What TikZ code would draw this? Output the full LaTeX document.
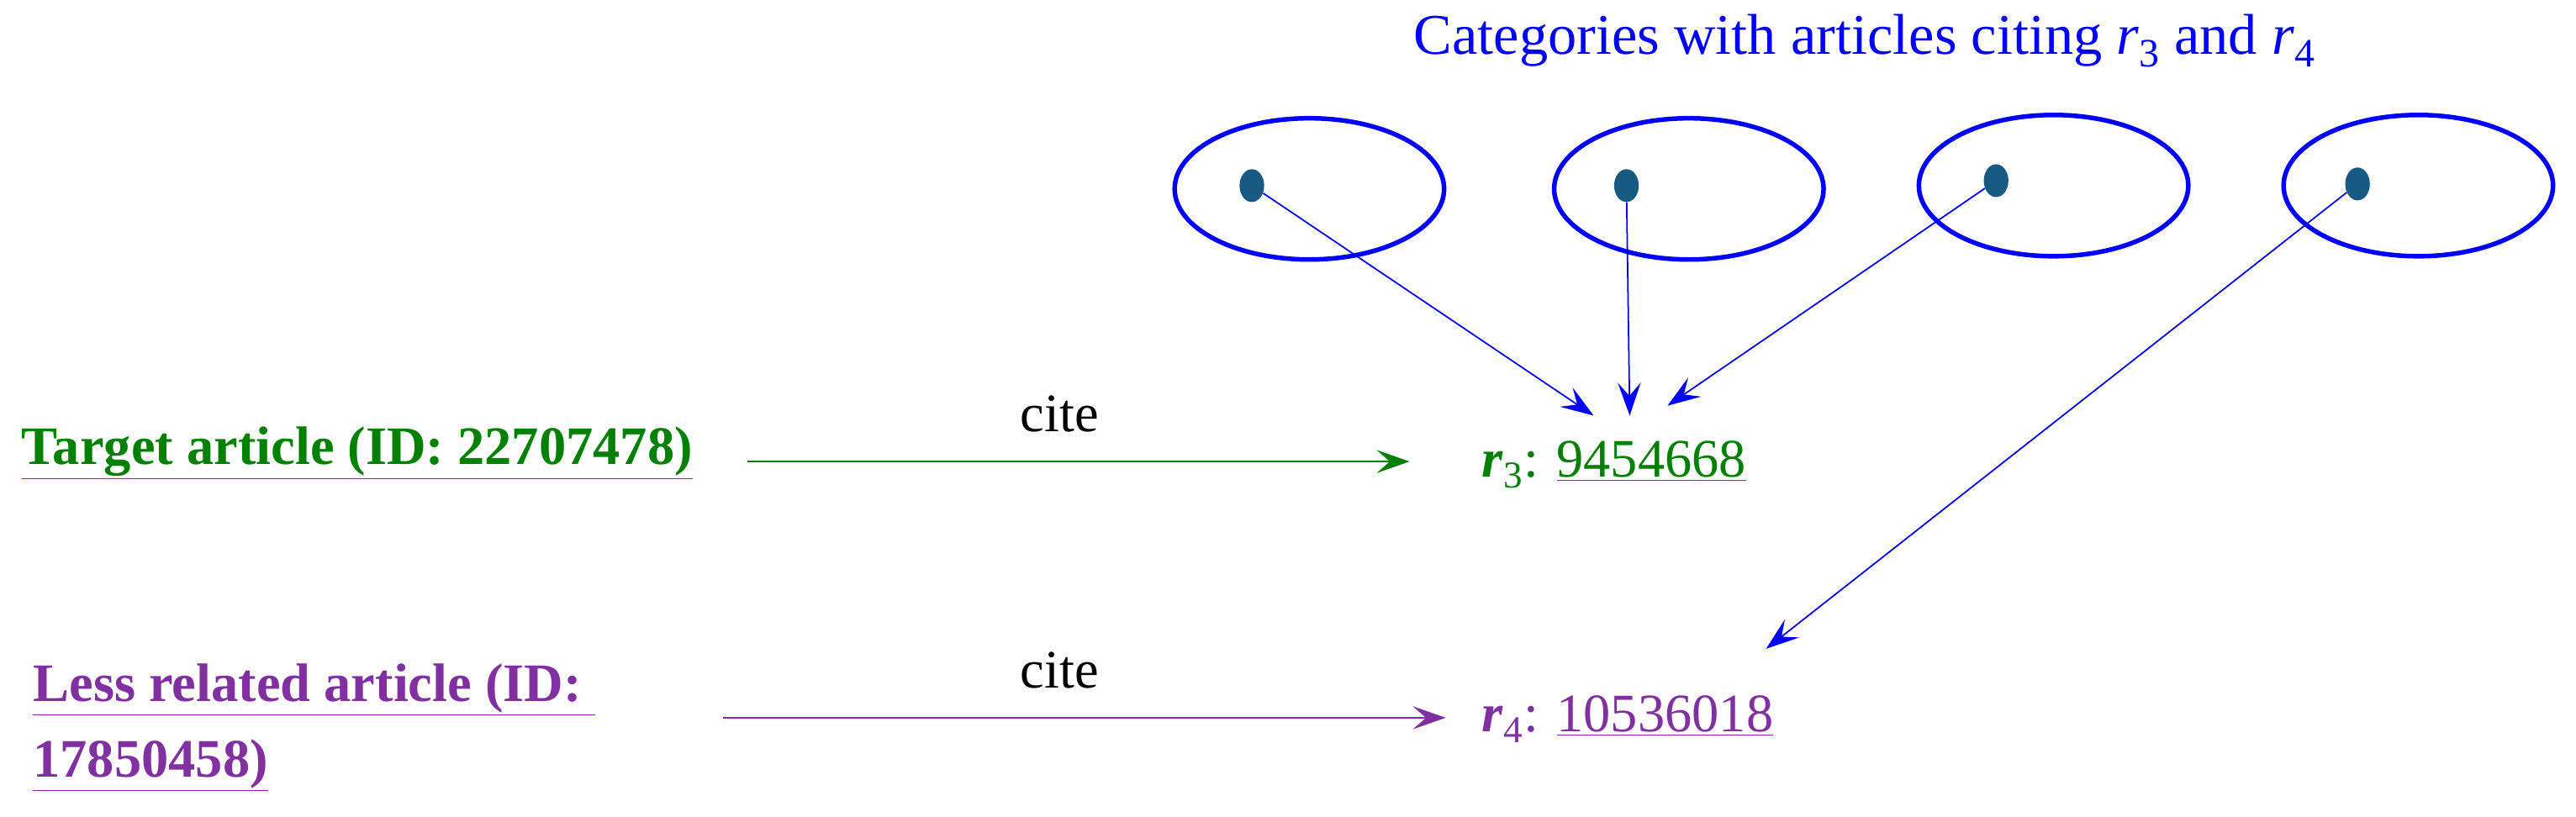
\documentclass[tikz,border=0pt]{standalone}
\usepackage{fontspec}
\setmainfont{Liberation Serif}
\usetikzlibrary{arrows.meta,shapes.geometric}
\definecolor{tgreen}{RGB}{0,128,0}
\definecolor{tpurple}{RGB}{128,48,160}
\definecolor{dotc}{RGB}{25,90,130}
\begin{document}
\begin{tikzpicture}[x=1pt,y=-1pt,
  cat/.style={draw=blue,line width=2.8pt,ellipse,minimum width=164pt,minimum height=86pt},
  dotn/.style={fill=dotc,ellipse,minimum width=15pt,minimum height=20pt,inner sep=0pt},
  tip/.style={-{Stealth[length=20pt,width=14pt,inset=8pt]}},
  bluearr/.style={tip,draw=blue,line width=0.9pt},
  lbl/.style={font=\fontsize{33}{38}\selectfont,inner sep=0pt}]
\useasboundingbox (0,0) rectangle (1568,497);
\node[lbl,text=blue,font=\fontsize{35}{40}\selectfont] (title) at (1135,25) {Categories with articles citing \textit{r}\textsubscript{3} and \textit{r}\textsubscript{4}};
\foreach \i/\x/\y/\dx/\dy in {1/797/115/762/113,2/1028/115/990/113,3/1250/113/1215/110,4/1472/113/1435/112}{
  \node[cat] (e\i) at (\x,\y) {};
  \node[dotn] (d\i) at (\dx,\dy) {};
}
\node[lbl,anchor=west,text=tgreen] (r3) at (902,283) {\textbf{\textit{r}}\textsubscript{3}: \underline{9454668}};
\node[lbl,anchor=west,text=tpurple] (r4) at (902,438) {\textbf{\textit{r}}\textsubscript{4}: \underline{10536018}};
\node[lbl,anchor=west,text=tgreen] (tgt) at (13,276) {\textbf{\underline{Target article (ID: 22707478)}}};
\node[lbl,anchor=west,text=tpurple] (less1) at (20,420) {\textbf{\underline{Less related article (ID:\ }}};
\node[lbl,anchor=west,text=tpurple] (less2) at (20,466) {\textbf{\underline{17850458)}}};
\node[lbl] (cite1) at (645,252) {cite};
\node[lbl] (cite2) at (645,408) {cite};
\coordinate (a1) at (970,253);
\coordinate (a2) at (992,253);
\coordinate (a3) at (1015,247);
\coordinate (a4) at (1075,395);
\coordinate (s1) at (455,281);
\coordinate (t1) at (858,281);
\coordinate (s2) at (440,437);
\coordinate (t2) at (880,437);
\draw[bluearr] (d1) -- (a1);
\draw[bluearr] (d2) -- (a2);
\draw[bluearr] (d3) -- (a3);
\draw[bluearr] (d4) -- (a4);
\draw[tip,draw=tgreen,line width=1.4pt] (s1) -- (t1);
\draw[tip,draw=tpurple,line width=1.4pt] (s2) -- (t2);
\end{tikzpicture}
\end{document}
